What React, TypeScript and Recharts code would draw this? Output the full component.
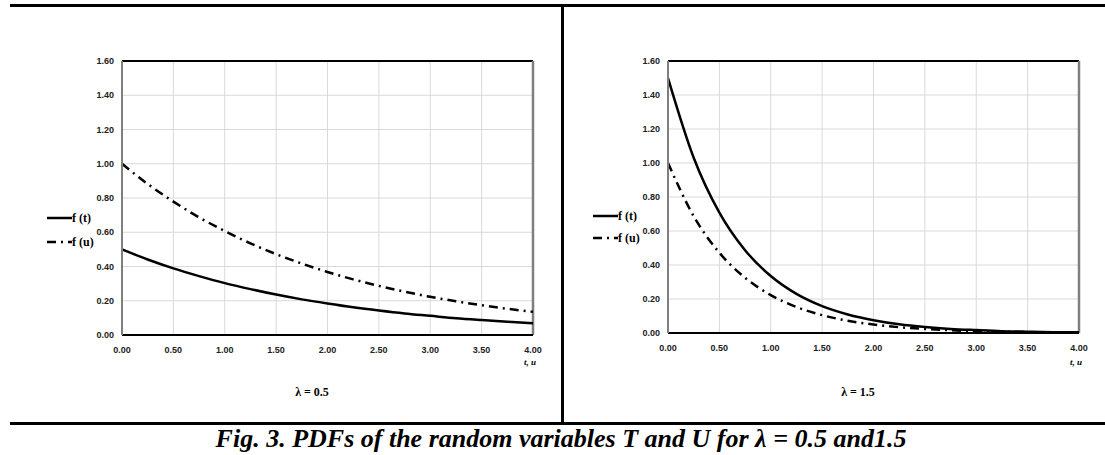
import { LineChart, Line, XAxis, YAxis, CartesianGrid, ReferenceLine } from 'recharts';

// x positions (t, u)
const tValues = [0, 0.25, 0.5, 0.75, 1, 1.25, 1.5, 1.75, 2, 2.25, 2.5, 2.75, 3, 3.25, 3.5, 3.75, 4];

// lambda = 0.5
const ftLow = [0.5, 0.441, 0.389, 0.344, 0.303, 0.268, 0.236, 0.208, 0.184, 0.162, 0.143, 0.126, 0.112, 0.098, 0.087, 0.077, 0.068];
const fuLow = [1.0, 0.882, 0.779, 0.687, 0.607, 0.535, 0.472, 0.417, 0.368, 0.325, 0.287, 0.253, 0.223, 0.197, 0.174, 0.153, 0.135];

// lambda = 1.5
const ftHigh = [1.5, 1.031, 0.708, 0.487, 0.335, 0.23, 0.158, 0.109, 0.075, 0.051, 0.035, 0.024, 0.017, 0.011, 0.008, 0.005, 0.004];
const fuHigh = [1.0, 0.687, 0.472, 0.325, 0.223, 0.153, 0.105, 0.072, 0.05, 0.034, 0.024, 0.016, 0.011, 0.008, 0.005, 0.004, 0.002];

const xTicks = [0, 0.5, 1, 1.5, 2, 2.5, 3, 3.5, 4];
const yTicks = [0, 0.2, 0.4, 0.6, 0.8, 1.0, 1.2, 1.4, 1.6];

const seriesNames = ['f (t)', 'f (u)'];
const DASH_DOT = '9 5 2 5';

const buildRows = (ft: number[], fu: number[]) =>
  tValues.map((t, i) => ({ t, ft: ft[i], fu: fu[i] }));

const tickStyle = { fontFamily: '"Liberation Sans", Arial, sans-serif', fontSize: 9, fontWeight: 'bold' as const, fill: '#222' };
const serif = '"Liberation Serif", "Times New Roman", serif';

interface PanelProps {
  left: number;
  width: number;
  yAxisWidth: number;
  xAxisHeight: number;
  ft: number[];
  fu: number[];
}

const Panel = ({ left, width, yAxisWidth, xAxisHeight, ft, fu }: PanelProps) => {
  const data = buildRows(ft, fu);
  return (
    <div style={{ position: 'absolute', left, top: 0 }}>
      <LineChart width={width} height={360} data={data} margin={{ top: 61, right: 26, bottom: 0, left: 0 }}>
        <CartesianGrid stroke="#d9d9d9" />
        <XAxis
          dataKey="t"
          type="number"
          domain={[0, 4]}
          ticks={xTicks}
          tickFormatter={(v: number) => v.toFixed(2)}
          tick={tickStyle}
          tickLine={false}
          tickMargin={6}
          height={xAxisHeight}
          axisLine={{ stroke: '#000', strokeWidth: 2 }}
        />
        <YAxis
          type="number"
          domain={[0, 1.6]}
          ticks={yTicks}
          tickFormatter={(v: number) => v.toFixed(2)}
          tick={tickStyle}
          tickLine={false}
          tickMargin={2}
          width={yAxisWidth}
          axisLine={{ stroke: '#7f7f7f', strokeWidth: 2 }}
        />
        <ReferenceLine y={1.6} stroke="#000" strokeWidth={2} />
        <ReferenceLine x={4} stroke="#7f7f7f" strokeWidth={2.5} />
        <Line dataKey="fu" type="monotone" stroke="#000" strokeWidth={2.5} strokeDasharray={DASH_DOT} dot={false} isAnimationActive={false} />
        <Line dataKey="ft" type="monotone" stroke="#000" strokeWidth={2.5} dot={false} isAnimationActive={false} />
      </LineChart>
    </div>
  );
};

const LegendBox = ({ left, top, gap }: { left: number; top: number; gap: number }) => (
  <div style={{ position: 'absolute', left, top }}>
    {seriesNames.map((name, i) => (
      <div key={name} style={{ display: 'flex', alignItems: 'center', height: 16, marginBottom: gap - 16 }}>
        <svg width={25} height={6}>
          <line x1={0} y1={3} x2={25} y2={3} stroke="#000" strokeWidth={2.5} strokeDasharray={i === 1 ? DASH_DOT : undefined} />
        </svg>
        <span style={{ fontFamily: serif, fontWeight: 'bold', fontSize: 12, color: '#000' }}>{name}</span>
      </div>
    ))}
  </div>
);

const lambdaStyle = { position: 'absolute' as const, top: 385, fontFamily: serif, fontWeight: 'bold' as const, fontSize: 12, width: 100, textAlign: 'center' as const };
const axisNameStyle = { position: 'absolute' as const, top: 357, fontFamily: serif, fontWeight: 'bold' as const, fontStyle: 'italic' as const, fontSize: 9 };

export default function App() {
  return (
    <div style={{ position: 'absolute', left: 0, top: 0, width: 1105, height: 455, background: '#fff', overflow: 'hidden' }}>
      <div style={{ position: 'absolute', left: 10, top: 4, width: 1095, height: 3, background: '#000' }} />
      <div style={{ position: 'absolute', left: 561, top: 4, width: 3, height: 420, background: '#000' }} />
      <div style={{ position: 'absolute', left: 10, top: 422, width: 1095, height: 3, background: '#000' }} />

      <Panel left={0} width={559} yAxisWidth={122} xAxisHeight={25} ft={ftLow} fu={fuLow} />
      <Panel left={560} width={545} yAxisWidth={108} xAxisHeight={27} ft={ftHigh} fu={fuHigh} />

      <LegendBox left={47} top={210} gap={24} />
      <LegendBox left={593} top={208} gap={22} />

      <div style={{ ...axisNameStyle, left: 524 }}>t, u</div>
      <div style={{ ...axisNameStyle, left: 1070 }}>t, u</div>

      <div style={{ ...lambdaStyle, left: 262 }}>λ = 0.5</div>
      <div style={{ ...lambdaStyle, left: 808 }}>λ = 1.5</div>

      <div style={{ position: 'absolute', left: 0, top: 424, width: 1122, textAlign: 'center', fontFamily: serif, fontWeight: 'bold', fontStyle: 'italic', fontSize: 26, lineHeight: '30px', whiteSpace: 'nowrap' }}>
        Fig. 3. PDFs of the random variables T and U for λ = 0.5 and1.5
      </div>
    </div>
  );
}
